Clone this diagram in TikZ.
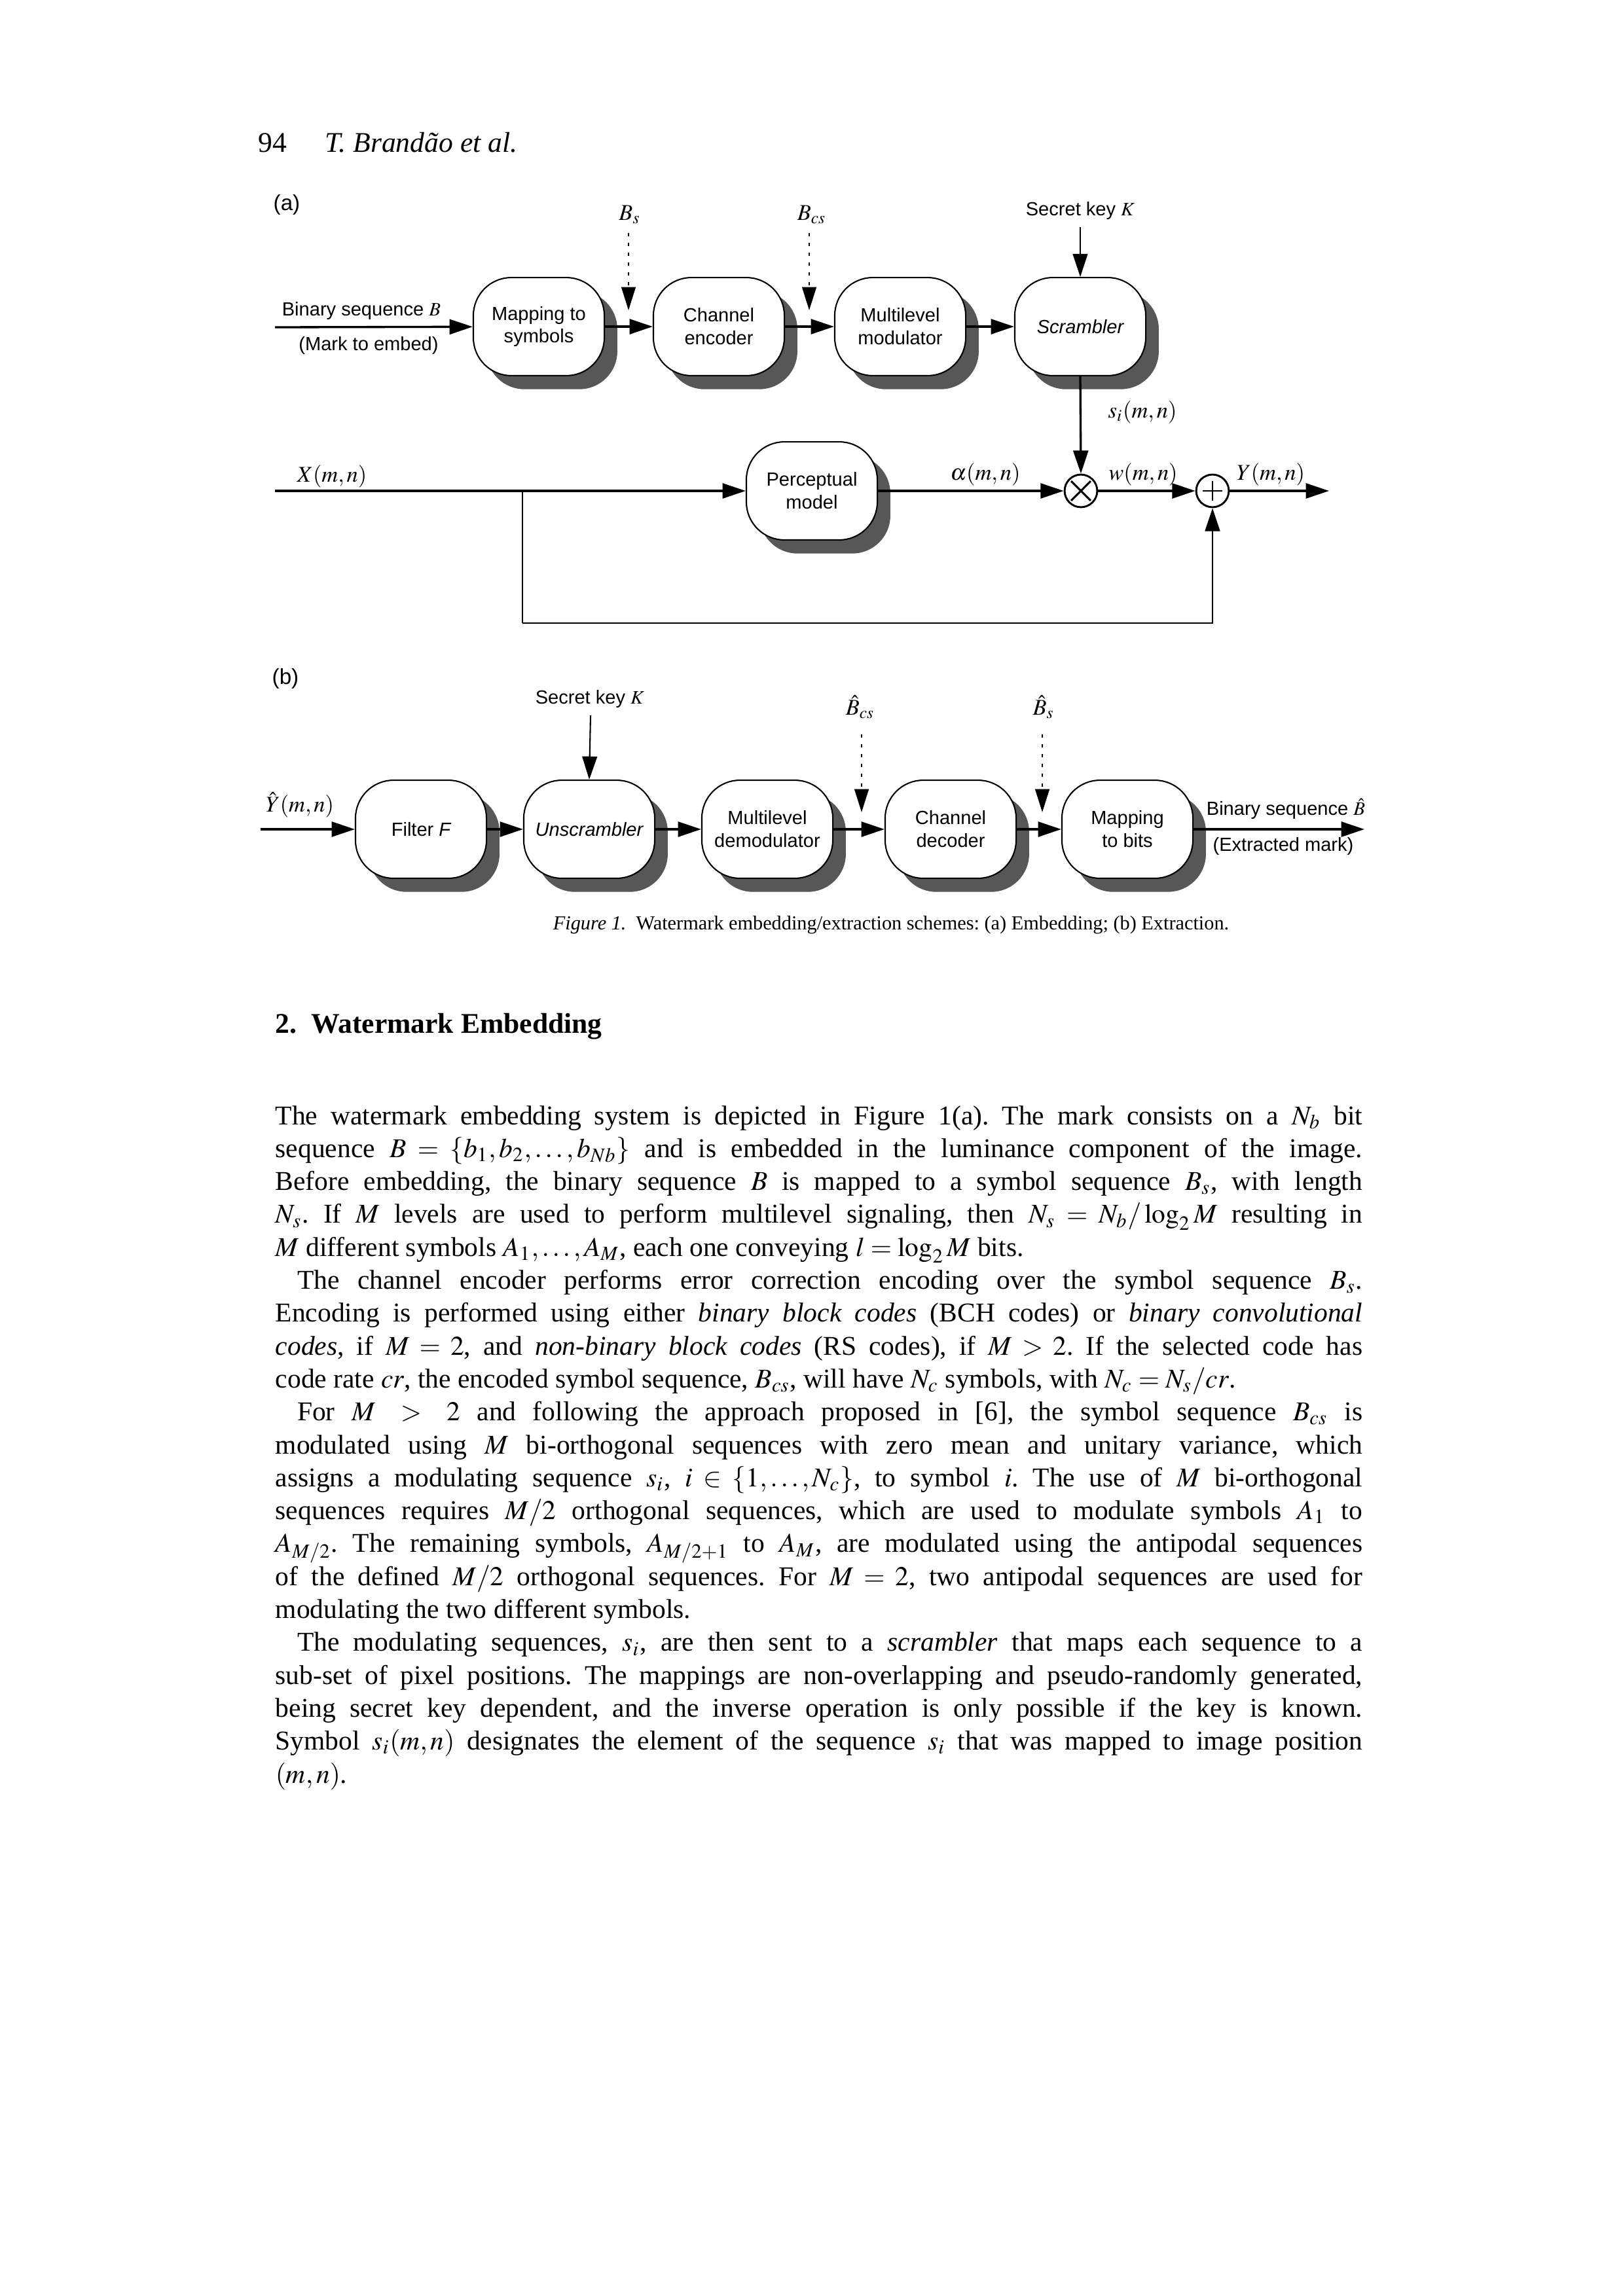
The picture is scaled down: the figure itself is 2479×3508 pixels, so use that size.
\documentclass[tikz,border=0pt]{standalone}
\usepackage{mathptmx}
\usepackage[no-math]{fontspec}
\setmainfont{Liberation Serif}
\setsansfont{Liberation Sans}
\usetikzlibrary{arrows.meta,shadows}
\frenchspacing
\begin{document}
\begin{tikzpicture}[x=0.24091pt,y=-0.24091pt,
  blk/.style={draw,line width=0.5pt,fill=white,rounded corners=14pt,minimum width=48.2pt,minimum height=36.1pt,inner sep=0pt,align=center,font=\sffamily\fontsize{7}{8.4}\selectfont,general shadow={fill=black!66,shadow xshift=4.8pt,shadow yshift=-5pt}},
  sig/.style={circle,draw,line width=0.7pt,minimum size=12pt,inner sep=0pt,fill=white},
  arr/.style={-{Triangle[length=8.5pt,width=5.5pt]},line width=0.8pt},
  tarr/.style={-{Triangle[length=8.5pt,width=5.5pt]},line width=0.5pt},
  dotarr/.style={-{Triangle[length=8.5pt,width=5.2pt]},line width=0.6pt,dash pattern=on 1.2pt off 2.4pt},
  lab/.style={inner sep=0pt,font=\fontsize{8.3}{10}\selectfont},
  slab/.style={inner sep=0pt,font=\sffamily\fontsize{7}{8.4}\selectfont},
  body/.style={anchor=base west,inner sep=0pt,font=\fontsize{10}{12}\selectfont}]
\path[use as bounding box,fill=white] (0,0) rectangle (2479,3508);

% header
\node[body,font=\fontsize{10.5}{12}\selectfont] (pg) at (394,232) {94};
\node[body,font=\fontsize{10.5}{12}\selectfont\itshape] (au) at (496,232) {T. Brandão et al.};

% ---------- (a) ----------
\node[slab,font=\sffamily\fontsize{8}{9}\selectfont] (la) at (438,313) {(a)};
\node[blk] (map) at (823,499) {Mapping to\\symbols};
\node[blk] (enc) at (1098,499) {Channel\\encoder};
\node[blk] (mod) at (1375,499) {Multilevel\\modulator};
\node[blk] (scr) at (1650,499) {\itshape Scrambler};
\node[blk] (pm) at (1240,750) {Perceptual\\model};
\node[sig] (mul) at (1651,750) {};
\node[sig] (add) at (1852,750) {};
\draw[line width=0.7pt] ([xshift=-3.6pt,yshift=-3.6pt]mul.center) -- ([xshift=3.6pt,yshift=3.6pt]mul.center)
  ([xshift=-3.6pt,yshift=3.6pt]mul.center) -- ([xshift=3.6pt,yshift=-3.6pt]mul.center);
\draw[line width=0.7pt] ([xshift=-3.6pt]add.center) -- ([xshift=3.6pt]add.center)
  ([yshift=-3.6pt]add.center) -- ([yshift=3.6pt]add.center);

\node[slab] (binB) at (552,475) {Binary sequence $B$};
\node[slab] (mte) at (563,528) {(Mark to embed)};
\node[lab] (bs) at (962,328) {$B_{s}$};
\node[lab] (bcs) at (1240,328) {$B_{cs}$};
\node[slab] (key1) at (1650,322) {Secret key $K$};
\node[lab] (si) at (1745,630) {$s_i(m,n)$};
\node[lab] (xl) at (507,728) {$X(m,n)$};
\node[lab] (al) at (1505,725) {$\alpha(m,n)$};
\node[lab] (wl) at (1746,725) {$w(m,n)$};
\node[lab] (yl) at (1941,725) {$Y(m,n)$};

\coordinate (ain) at (420,500);
\coordinate (bsa) at (960,356);
\coordinate (bsb) at (960,474);
\coordinate (bcsa) at (1236,356);
\coordinate (bcsb) at (1236,474);
\coordinate (k1) at (1650,347);
\coordinate (xin) at (420,750);
\coordinate (br) at (798,750);
\coordinate (brd) at (798,952);
\coordinate (yout) at (2030,750);

\draw[arr] (ain) -- (map);
\draw[arr] (map) -- (enc);
\draw[arr] (enc) -- (mod);
\draw[arr] (mod) -- (scr);
\draw[dotarr] (bsa) -- (bsb);
\draw[dotarr] (bcsa) -- (bcsb);
\draw[tarr] (k1) -- (scr.north);
\draw[arr] (scr.south) -- (mul.north);
\draw[arr] (xin) -- (pm.west);
\draw[line width=0.6pt] (br) -- (brd);
\draw[arr,line width=0.6pt] (brd) -| (add.south);
\draw[arr] (pm.east) -- (mul.west);
\draw[arr] (mul.east) -- (add.west);
\draw[arr] (add.east) -- (yout);

% ---------- (b) ----------
\node[slab,font=\sffamily\fontsize{8}{9}\selectfont] (lb) at (436,1037) {(b)};
\node[blk] (fil) at (643,1267) {Filter \itshape F};
\node[blk] (uns) at (900,1267) {\itshape Unscrambler};
\node[blk] (dem) at (1172,1267) {Multilevel\\demodulator};
\node[blk] (dec) at (1452,1267) {Channel\\decoder};
\node[blk] (mtb) at (1722,1267) {Mapping\\to bits};

\node[slab] (key2) at (901,1068) {Secret key $K$};
\node[lab] (hbcs) at (1314,1080) {$\hat{B}_{cs}$};
\node[lab] (hbs) at (1594,1080) {$\hat{B}_{s}$};
\node[lab] (yh) at (458,1230) {$\hat{Y}(m,n)$};
\node[slab] (binhB) at (1964,1236) {Binary sequence $\hat{B}$};
\node[slab] (xm) at (1960,1293) {(Extracted mark)};

\coordinate (yin) at (398,1267);
\coordinate (k2) at (902,1093);
\coordinate (hbcsa) at (1316,1122);
\coordinate (hbcsb) at (1316,1241);
\coordinate (hbsa) at (1592,1122);
\coordinate (hbsb) at (1592,1241);
\coordinate (bout) at (2084,1267);

\draw[arr] (yin) -- (fil);
\draw[arr] (fil) -- (uns);
\draw[arr] (uns) -- (dem);
\draw[arr] (dem) -- (dec);
\draw[arr] (dec) -- (mtb);
\draw[arr] (mtb) -- (bout);
\draw[tarr] (k2) -- (uns.north);
\draw[dotarr] (hbcsa) -- (hbcsb);
\draw[dotarr] (hbsa) -- (hbsb);

% caption and heading
\node[inner sep=0pt,anchor=base,font=\fontsize{7.3}{9}\selectfont] (cap) at (1361,1420)
  {\textit{Figure 1.}\enspace Watermark embedding/extraction schemes: (a) Embedding; (b) Extraction.};
\node[body,font=\fontsize{10.5}{12}\selectfont\bfseries] (sec) at (420,1578) {2.\enspace Watermark Embedding};

% body text
\node[body] (l1) at (420,1718) {\makebox[400pt][s]{The watermark embedding system is depicted in Figure 1(a). The mark consists on a $N_b$ bit}};
\node[body] (l2) at (420,1768.3) {\makebox[400pt][s]{sequence $B=\{b_1,b_2,\ldots,b_{Nb}\}$ and is embedded in the luminance component of the image.}};
\node[body] (l3) at (420,1818.6) {\makebox[400pt][s]{Before embedding, the binary sequence $B$ is mapped to a symbol sequence $B_s$, with length}};
\node[body] (l4) at (420,1868.9) {\makebox[400pt][s]{$N_s$. If $M$ levels are used to perform multilevel signaling, then $N_s=N_b/\log_2 M$ resulting in}};
\node[body] (l5) at (420,1919.2) {$M$ different symbols $A_1,\ldots,A_M$, each one conveying $l=\log_2 M$ bits.};
\node[body] (l6) at (420,1969.5) {\makebox[400pt][s]{\hspace*{8pt}The channel encoder performs error correction encoding over the symbol sequence $B_s$.}};
\node[body] (l7) at (420,2019.8) {\makebox[400pt][s]{Encoding is performed using either \textit{binary block codes} (BCH codes) or \textit{binary convolutional}}};
\node[body] (l8) at (420,2070.1) {\makebox[400pt][s]{\textit{codes}, if $M=2$, and \textit{non-binary block codes} (RS codes), if $M>2$. If the selected code has}};
\node[body] (l9) at (420,2120.4) {code rate $cr$, the encoded symbol sequence, $B_{cs}$, will have $N_c$ symbols, with $N_c=N_s/cr$.};
\node[body] (l10) at (420,2170.7) {\makebox[400pt][s]{\hspace*{8pt}For $M\;>\;2$ and following the approach proposed in [6], the symbol sequence $B_{cs}$ is}};
\node[body] (l11) at (420,2221) {\makebox[400pt][s]{modulated using $M$ bi-orthogonal sequences with zero mean and unitary variance, which}};
\node[body] (l12) at (420,2271.3) {\makebox[400pt][s]{assigns a modulating sequence $s_i$, $i\in\{1,\ldots,N_c\}$, to symbol $i$. The use of $M$ bi-orthogonal}};
\node[body] (l13) at (420,2321.6) {\makebox[400pt][s]{sequences requires $M/2$ orthogonal sequences, which are used to modulate symbols $A_1$ to}};
\node[body] (l14) at (420,2371.9) {\makebox[400pt][s]{$A_{M/2}$. The remaining symbols, $A_{M/2+1}$ to $A_M$, are modulated using the antipodal sequences}};
\node[body] (l15) at (420,2422.2) {\makebox[400pt][s]{of the defined $M/2$ orthogonal sequences. For $M=2$, two antipodal sequences are used for}};
\node[body] (l16) at (420,2472.5) {modulating the two different symbols.};
\node[body] (l17) at (420,2522.8) {\makebox[400pt][s]{\hspace*{8pt}The modulating sequences, $s_i$, are then sent to a \textit{scrambler} that maps each sequence to a}};
\node[body] (l18) at (420,2573.1) {\makebox[400pt][s]{sub-set of pixel positions. The mappings are non-overlapping and pseudo-randomly generated,}};
\node[body] (l19) at (420,2623.4) {\makebox[400pt][s]{being secret key dependent, and the inverse operation is only possible if the key is known.}};
\node[body] (l20) at (420,2673.7) {\makebox[400pt][s]{Symbol $s_i(m,n)$ designates the element of the sequence $s_i$ that was mapped to image position}};
\node[body] (l21) at (420,2724) {$(m,n)$.};
\end{tikzpicture}
\end{document}
